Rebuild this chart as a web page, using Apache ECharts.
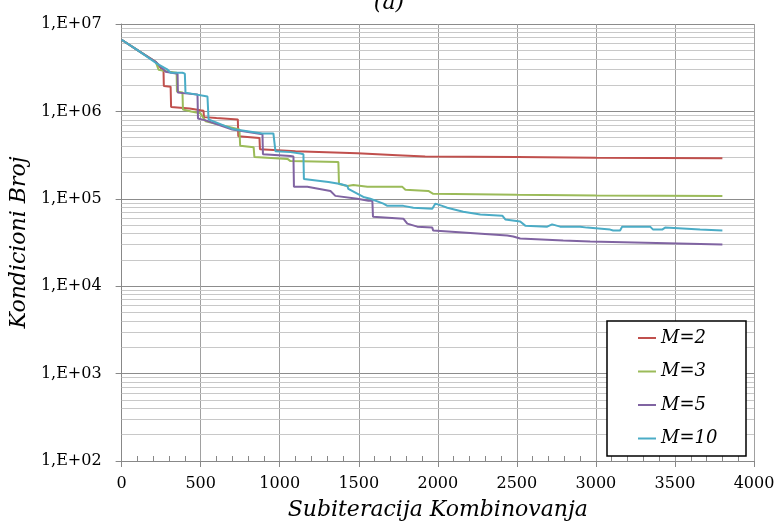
<!DOCTYPE html>
<html>
<head>
<meta charset="utf-8">
<title>Kondicioni Broj</title>
<script src="https://cdn.jsdelivr.net/npm/echarts@6/dist/echarts.min.js"></script>
<style>
html, body { margin: 0; padding: 0; background: #fff; }
#chart { width: 778px; height: 526px; }
</style>
</head>
<body>
<div id="chart"></div>
<script>
// podaci ocitani sa slike: [subiteracija, kondicioni broj]
const seriesNames = ['M=2', 'M=3', 'M=5', 'M=10']
const seriesColors = ['#c0504d', '#9bbb59', '#8064a2', '#4bacc6']

const m2 = [[0, 6.6e6], [110, 4.9e6], [215, 3.7e6], [250, 3.1e6], [265, 3.0e6], [267, 1.95e6], [310, 1.92e6],
    [313, 1.12e6], [430, 1.08e6], [499, 1.03e6], [518, 1.02e6], [521, 8.6e5], [600, 8.4e5], [735, 8.1e5],
    [738, 5.2e5], [872, 4.95e5], [875, 3.7e5], [1100, 3.5e5], [1491, 3.33e5], [1744, 3.16e5], [1920, 3.05e5],
    [2500, 3.0e5], [3000, 2.95e5], [3800, 2.92e5]]

const m3 = [[0, 6.6e6], [110, 4.9e6], [215, 3.7e6], [234, 3.0e6], [300, 2.85e6], [348, 2.77e6], [350, 1.69e6],
    [385, 1.65e6], [388, 1.05e6], [440, 1.0e6], [499, 9.5e5], [531, 7.7e5], [640, 6.9e5], [745, 6.2e5],
    [750, 4.05e5], [835, 3.9e5], [840, 3.0e5], [1049, 2.86e5], [1068, 2.7e5], [1371, 2.63e5], [1375, 1.48e5],
    [1428, 1.4e5], [1466, 1.44e5], [1555, 1.37e5], [1776, 1.37e5], [1795, 1.27e5], [1940, 1.23e5],
    [1971, 1.14e5], [2500, 1.11e5], [3000, 1.09e5], [3800, 1.08e5]]

const m5 = [[0, 6.6e6], [110, 4.9e6], [215, 3.7e6], [278, 2.85e6], [354, 2.7e6], [356, 1.64e6], [480, 1.56e6],
    [483, 8.3e5], [531, 7.9e5], [700, 6.2e5], [891, 5.48e5], [894, 3.24e5], [1068, 3.08e5], [1087, 3.05e5],
    [1090, 1.37e5], [1175, 1.37e5], [1321, 1.23e5], [1352, 1.08e5], [1491, 1.0e5], [1561, 9.5e4], [1586, 9.5e4],
    [1590, 6.24e4], [1782, 5.93e4], [1807, 5.2e4], [1870, 4.8e4], [1965, 4.68e4], [1971, 4.33e4], [2439, 3.8e4],
    [2477, 3.7e4], [2521, 3.51e4], [2793, 3.33e4], [2964, 3.24e4], [3800, 3.0e4]]

const m10 = [[0, 6.6e6], [110, 4.9e6], [215, 3.6e6], [291, 3.0e6], [310, 2.77e6], [385, 2.77e6], [400, 2.7e6],
    [404, 1.64e6], [543, 1.48e6], [550, 8.1e5], [700, 6.3e5], [891, 5.6e5], [960, 5.6e5], [973, 3.51e5],
    [1068, 3.42e5], [1131, 3.3e5], [1150, 3.24e5], [1153, 1.69e5], [1308, 1.56e5], [1384, 1.48e5], [1428, 1.4e5],
    [1434, 1.3e5], [1529, 1.05e5], [1573, 1.0e5], [1656, 8.8e4], [1681, 8.3e4], [1782, 8.3e4], [1845, 7.9e4],
    [1965, 7.7e4], [1984, 8.8e4], [2028, 8.3e4], [2060, 7.9e4], [2161, 7.1e4], [2269, 6.6e4], [2408, 6.4e4],
    [2427, 5.8e4], [2521, 5.5e4], [2553, 4.93e4], [2692, 4.8e4], [2723, 5.1e4], [2774, 4.8e4], [2900, 4.8e4],
    [2945, 4.68e4], [3090, 4.44e4], [3109, 4.33e4], [3153, 4.33e4], [3166, 4.8e4], [3343, 4.8e4], [3362, 4.44e4],
    [3419, 4.44e4], [3438, 4.68e4], [3659, 4.44e4], [3800, 4.33e4]]

const seriesData = [m2, m3, m5, m10]

// pomocne linije mreze izmedju dekada (2..9 x 10^e)
const minorSteps = [2, 3, 4, 5, 6, 7, 8, 9]
const decades = [2, 3, 4, 5, 6]
const minorLevels = []
decades.forEach(e => minorSteps.forEach(k => minorLevels.push(k * Math.pow(10, e))))

const serif = 'DejaVu Serif'

const chart = echarts.init(document.getElementById('chart'))

const series = seriesData.map((d, i) => ({
    name: seriesNames[i],
    type: 'line',
    data: d,
    symbol: 'none',
    z: 2,
    color: seriesColors[i],
    lineStyle: { width: 2, color: seriesColors[i] }
}))

series.unshift({
    name: '_grid',
    type: 'line',
    data: [],
    silent: true,
    markLine: {
        silent: true,
        z: 1,
        symbol: ['none', 'none'],
        label: { show: false },
        emphasis: { disabled: true },
        lineStyle: { color: '#c8c8c8', width: 1, type: 'solid' },
        data: minorLevels.map(v => ({ yAxis: v }))
    }
})

const option = {
    animation: false,
    backgroundColor: '#fff',
    title: {
        text: '(a)',
        left: 'center',
        top: -13,
        textStyle: { fontFamily: serif, fontStyle: 'italic', fontWeight: 'normal', fontSize: 22, color: '#000' }
    },
    grid: { left: 121, right: 24, top: 24, bottom: 62 },
    xAxis: [{
        type: 'value',
        min: 0,
        max: 4000,
        interval: 500,
        name: 'Subiteracija Kombinovanja',
        nameLocation: 'middle',
        nameGap: 38,
        nameTextStyle: { fontFamily: serif, fontStyle: 'italic', fontSize: 22, color: '#000' },
        axisLine: { lineStyle: { color: '#888', width: 1 } },
        axisTick: { show: true, length: 6, lineStyle: { color: '#888' } },
        axisLabel: { fontFamily: serif, fontSize: 16, color: '#000', margin: 15, formatter: v => String(v) },
        splitLine: { show: true, lineStyle: { color: '#a0a0a0', width: 1 } }
    }, {
        type: 'value',
        position: 'bottom',
        min: 0,
        max: 4000,
        interval: 500,
        axisLine: { show: false },
        axisTick: { show: false, inside: true },
        axisLabel: { show: false },
        splitLine: { show: false },
        minorTick: { show: true, splitNumber: 5, length: 5, lineStyle: { color: '#888' } }
    }],
    yAxis: {
        type: 'log',
        logBase: 10,
        min: 100,
        max: 1e7,
        name: 'Kondicioni Broj',
        nameLocation: 'middle',
        nameGap: 80,
        nameTextStyle: { fontFamily: serif, fontStyle: 'italic', fontSize: 22, color: '#000' },
        axisLine: { show: true, lineStyle: { color: '#888', width: 1 } },
        axisTick: { show: true, length: 6, lineStyle: { color: '#888' } },
        axisLabel: {
            fontFamily: serif,
            fontSize: 16,
            color: '#000',
            margin: 20,
            formatter: v => '1,E+0' + Math.round(Math.log10(v))
        },
        splitLine: { show: true, lineStyle: { color: '#8c8c8c', width: 1 } }
    },
    legend: {
        data: seriesNames,
        orient: 'vertical',
        left: 638,
        top: 328,
        padding: 0,
        icon: 'rect',
        itemWidth: 18,
        itemHeight: 2,
        itemGap: 13.5,
        textStyle: { fontFamily: serif, fontStyle: 'italic', fontSize: 18, lineHeight: 20, color: '#000' }
    },
    graphic: [{
        type: 'rect',
        z: 3,
        shape: { x: 607, y: 321, width: 139, height: 135 },
        style: { fill: '#fff', stroke: '#000', lineWidth: 1.5 }
    }],
    series: series
}

chart.setOption(option)
window.addEventListener('resize', () => chart.resize())
</script>
</body>
</html>
